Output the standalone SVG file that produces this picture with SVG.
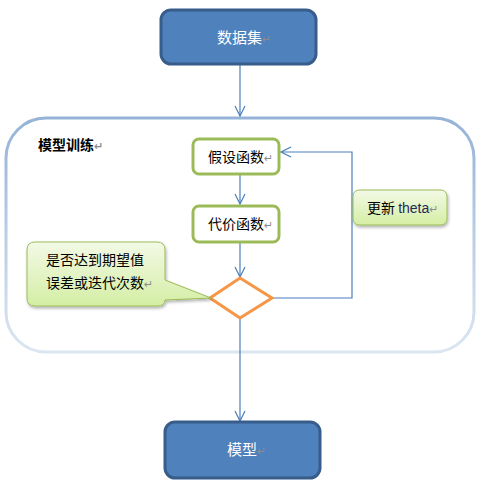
<svg xmlns="http://www.w3.org/2000/svg" width="484" height="485" viewBox="0 0 484 485">
<defs>
<marker id="arr" viewBox="0 0 12 12" refX="11" refY="6" markerWidth="12" markerHeight="12" markerUnits="userSpaceOnUse" orient="auto">
<path d="M1,1 L11,6 L1,11" fill="none" stroke="#4A7EBB" stroke-width="1.2"/>
</marker>
<linearGradient id="cg" x1="0" y1="0" x2="0" y2="1">
<stop offset="0" stop-color="#F3F9E6"/>
<stop offset="1" stop-color="#D4EEA4"/>
</linearGradient>
<linearGradient id="bg" x1="0" y1="0" x2="0" y2="1">
<stop offset="0" stop-color="#95B3D7"/>
<stop offset="1" stop-color="#DCE6F2"/>
</linearGradient>
<filter id="sh" x="-20%" y="-20%" width="140%" height="150%">
<feDropShadow dx="1" dy="2" stdDeviation="1.5" flood-color="#000" flood-opacity="0.3"/>
</filter>
</defs>
<style>
.blue{fill:#4F81BD;stroke:#385D8A;stroke-width:3}
.green{fill:#fff;stroke:#9BBB59;stroke-width:3}
.call{fill:url(#cg);stroke:#9BBB59;stroke-width:1}
.t{font-family:"Noto Sans CJK SC","Liberation Sans",sans-serif;font-size:14px;fill:#000}
.w{font-family:"Noto Sans CJK SC","Liberation Sans",sans-serif;font-size:15px;fill:#fff}
.pm{fill:#8C8C8C;font-size:11px;font-family:"DejaVu Sans",sans-serif}
.c{fill:none;stroke:#4A7EBB;stroke-width:1.2}
</style>
<rect width="484" height="485" fill="#fff"/>
<g id="container">
<rect x="6" y="118" width="468" height="234" rx="40" fill="#fff" stroke="url(#bg)" stroke-width="3"/>
<text x="38" y="150" class="t" font-weight="bold">模型训练<tspan class="pm">↵</tspan></text>
</g>
<g id="connectors">
<line x1="240" y1="65" x2="240" y2="116" class="c" marker-end="url(#arr)"/>
<line x1="240" y1="175" x2="240" y2="204" class="c" marker-end="url(#arr)"/>
<line x1="240" y1="243" x2="240" y2="277" class="c" marker-end="url(#arr)"/>
<polyline points="272,298 352,298 352,152 281,152" class="c" marker-end="url(#arr)"/>
<line x1="240" y1="318" x2="240" y2="421" class="c" marker-end="url(#arr)"/>
</g>
<g id="dataset">
<rect x="161" y="10" width="155" height="54" rx="10" class="blue"/>
<text x="217" y="43" class="w">数据集<tspan class="pm">↵</tspan></text>
</g>
<g id="hypothesis">
<rect x="193" y="139" width="86" height="35" rx="6" class="green"/>
<text x="208" y="162" class="t">假设函数<tspan class="pm">↵</tspan></text>
</g>
<g id="cost">
<rect x="193" y="206" width="86" height="36" rx="6" class="green"/>
<text x="208" y="229" class="t">代价函数<tspan class="pm">↵</tspan></text>
</g>
<g id="decision">
<polygon points="240,278 272,298 240,318 210,298" fill="#fff" stroke="#F79646" stroke-width="3"/>
</g>
<g id="update-callout">
<rect x="353" y="190" width="94" height="35" rx="6" class="call" filter="url(#sh)"/>
<text x="367" y="213" class="t">更新 <tspan fill="#1F2A5A" font-family="Liberation Sans, sans-serif">theta</tspan><tspan class="pm">↵</tspan></text>
</g>
<g id="condition-callout">
<path d="M35,242 H157 Q165,242 165,250 V280 L211,298 L165,300 Q165,306 157,306 H35 Q27,306 27,298 V250 Q27,242 35,242 Z" class="call" filter="url(#sh)"/>
<text x="46" y="265" class="t">是否达到期望值</text>
<text x="46" y="288" class="t">误差或迭代次数<tspan class="pm">↵</tspan></text>
</g>
<g id="model">
<rect x="165" y="422" width="155" height="56" rx="10" class="blue"/>
<text x="227" y="455" class="w">模型<tspan class="pm">↵</tspan></text>
</g>
</svg>
